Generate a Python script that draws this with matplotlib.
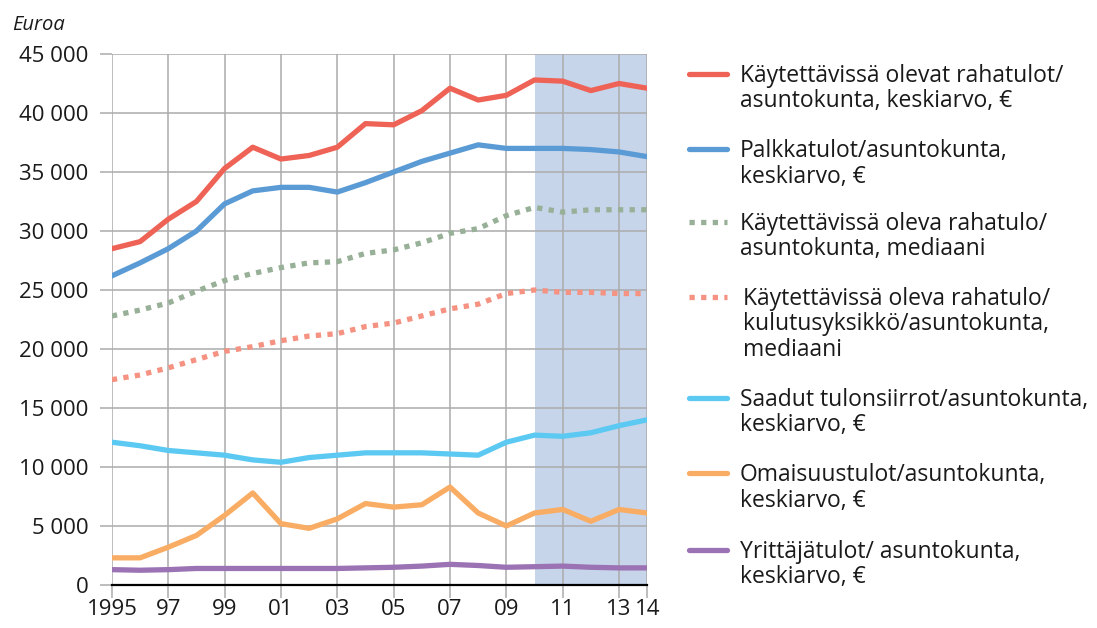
import matplotlib
matplotlib.use('Agg')
import matplotlib.pyplot as plt
from matplotlib.lines import Line2D
import matplotlib.ticker as ticker

plt.rcParams['font.family'] = ['Open Sans', 'DejaVu Sans']
plt.rcParams['font.size'] = 16

years = list(range(1995, 2015))

kaytettavissa_ka = [28500, 29100, 31000, 32500, 35300, 37100, 36100, 36400, 37100, 39100,
                    39000, 40200, 42100, 41100, 41500, 42800, 42700, 41900, 42500, 42100]
palkkatulot = [26200, 27300, 28500, 30000, 32300, 33400, 33700, 33700, 33300, 34100,
               35000, 35900, 36600, 37300, 37000, 37000, 37000, 36900, 36700, 36300]
kaytettavissa_med = [22800, 23300, 23900, 24900, 25800, 26400, 26900, 27300, 27400, 28100,
                     28400, 29000, 29800, 30200, 31300, 32000, 31600, 31800, 31800, 31800]
kulutusyksikko_med = [17400, 17800, 18400, 19100, 19800, 20200, 20700, 21100, 21300, 21900,
                      22200, 22800, 23400, 23800, 24700, 25000, 24800, 24800, 24700, 24700]
tulonsiirrot = [12100, 11800, 11400, 11200, 11000, 10600, 10400, 10800, 11000, 11200,
                11200, 11200, 11100, 11000, 12100, 12700, 12600, 12900, 13500, 14000]
omaisuustulot = [2300, 2300, 3200, 4200, 5900, 7800, 5200, 4800, 5600, 6900,
                 6600, 6800, 8300, 6100, 5000, 6100, 6400, 5400, 6400, 6100]
yrittajatulot = [1300, 1250, 1300, 1400, 1400, 1400, 1400, 1400, 1400, 1450,
                 1500, 1600, 1750, 1650, 1500, 1550, 1600, 1500, 1450, 1450]

labels = [
    ["Käytettävissä olevat rahatulot/", "asuntokunta, keskiarvo, €"],
    ["Palkkatulot/asuntokunta,", "keskiarvo, €"],
    ["Käytettävissä oleva rahatulo/", "asuntokunta, mediaani"],
    ["Käytettävissä oleva rahatulo/", "kulutusyksikkö/asuntokunta,", "mediaani"],
    ["Saadut tulonsiirrot/asuntokunta,", "keskiarvo, €"],
    ["Omaisuustulot/asuntokunta,", "keskiarvo, €"],
    ["Yrittäjätulot/ asuntokunta,", "keskiarvo, €"],
]
series = [kaytettavissa_ka, palkkatulot, kaytettavissa_med, kulutusyksikko_med,
          tulonsiirrot, omaisuustulot, yrittajatulot]
colors = ['#EF6357', '#5B9BD5', '#97B097', '#F59282', '#5BC9F2', '#F9AD64', '#9B72B3']
styles = ['-', '-', (0, (1, 1.2)), (0, (1, 1.2)), '-', '-', '-']

shade_start, shade_end = 2010, 2014
xticks = [1995, 1997, 1999, 2001, 2003, 2005, 2007, 2009, 2011, 2013, 2014]
xticklabels = ['1995', '97', '99', '01', '03', '05', '07', '09', '11', '13', '14']

fig = plt.figure(figsize=(10.97, 6.28), dpi=100)
ax = fig.add_axes([0.102, 0.0685, 0.488, 0.8455])

ax.axvspan(shade_start, shade_end, color='#C6D5EA', zorder=0, lw=0)

for vals, c, ls in zip(series, colors, styles):
    cap = 'butt' if ls != '-' else 'round'
    ax.plot(years, vals, color=c, linestyle=ls, linewidth=3.8,
            solid_capstyle=cap, dash_capstyle='butt', zorder=3)

ax.set_xlim(1995, 2014)
ax.set_ylim(0, 45000)
ax.set_yticks(range(0, 45001, 5000))
ax.yaxis.set_major_formatter(ticker.FuncFormatter(
    lambda y, pos: '{:,.0f}'.format(y).replace(',', ' ')))
ax.set_xticks(xticks)
ax.set_xticklabels(xticklabels)

ax.grid(True, color='#ABABAB', linewidth=1.1, zorder=1)
ax.set_axisbelow(True)
for s in ['top', 'right', 'left']:
    ax.spines[s].set_visible(False)
ax.spines['bottom'].set_color('black')
ax.spines['bottom'].set_linewidth(1.6)
ax.spines['bottom'].set_zorder(4)
ax.tick_params(axis='y', length=9, width=1.1, color='#ABABAB', pad=8, labelsize=16,
               labelcolor='#1a1a1a')
ax.tick_params(axis='x', length=9, width=1.1, color='#ABABAB', pad=1, labelsize=16,
               labelcolor='#1a1a1a')

fig.text(0.011, 1 - 30 / 628., 'Euroa', fontsize=14.5, style='italic',
         color='#1a1a1a', va='baseline')

# legend drawn by hand
W, H = 1097., 628.
entry_y = [74, 149, 222, 297, 398, 473, 550]
text_dx = [0, 0, 0, 3, 0, 0, 0]
for lines, c, ls, y0, dx in zip(labels, colors, styles, entry_y, text_dx):
    fig.add_artist(Line2D([689 / W, 727 / W], [1 - y0 / H, 1 - y0 / H],
                          color=c, linestyle=ls, linewidth=3.8,
                          solid_capstyle='round', dash_capstyle='butt'))
    for k, t in enumerate(lines):
        fig.text((740 + dx) / W, 1 - (y0 + 2 + 25.5 * k) / H, t, fontsize=16.5,
                 va='center', ha='left', color='#1a1a1a')

plt.savefig('out.png', dpi=100)
